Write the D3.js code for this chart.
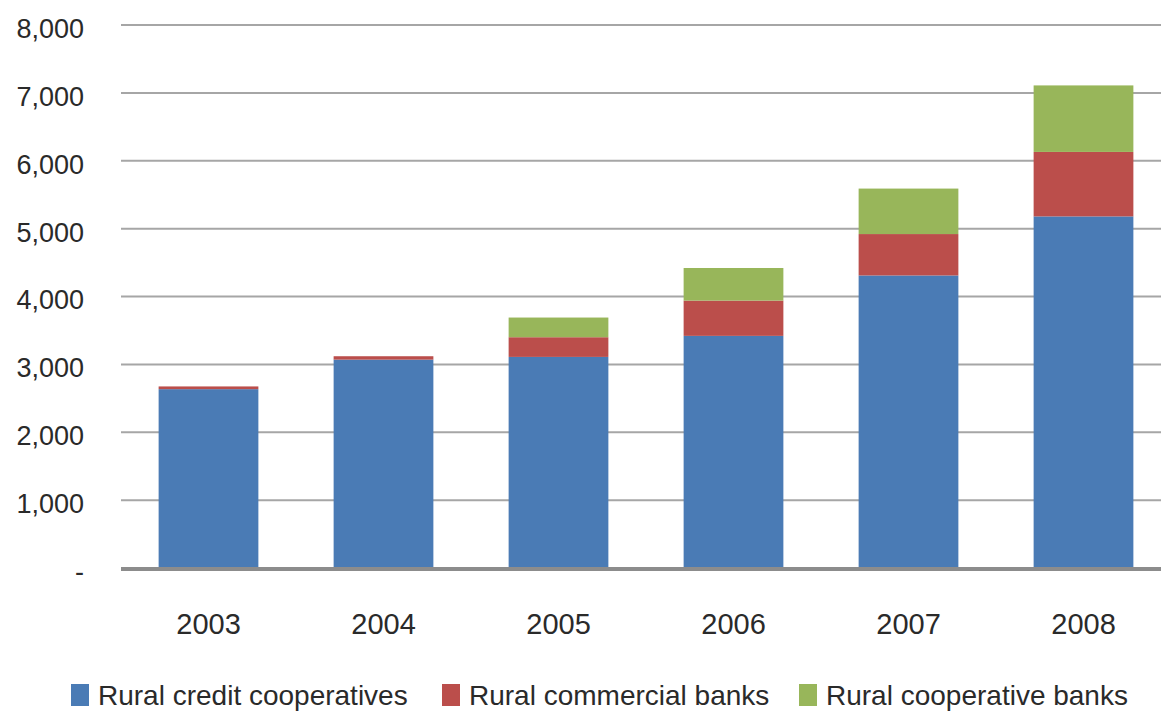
<!DOCTYPE html>
<html><head><meta charset="utf-8">
<script src="https://cdn.jsdelivr.net/npm/d3@7"></script>
<style>body{margin:0;background:#fff;}svg{display:block;}</style>
</head><body>
<svg id="chart" width="1161" height="711"></svg>
<script>
const years = ["2003","2004","2005","2006","2007","2008"];
const seriesNames = ["Rural credit cooperatives","Rural commercial banks","Rural cooperative banks"];
const creditCoops = [2635, 3070, 3110, 3420, 4310, 5180];
const commercialBanks = [40, 50, 290, 520, 610, 950];
const cooperativeBanks = [0, 0, 290, 480, 670, 980];
const yTicks = [0,1000,2000,3000,4000,5000,6000,7000,8000];
const colors = ["#4a7bb5","#bb4e4b","#98b65a"];

(function(){
const svg = d3.select("#chart");
const pLeft = 121, pRight = 1171, pTop = 25, pBottom = 568;

const rows = years.map((yr,i)=>({year:yr, a:creditCoops[i], b:commercialBanks[i], c:cooperativeBanks[i]}));
const stack = d3.stack().keys(["a","b","c"])(rows);

const x = d3.scaleBand().domain(years).range([pLeft,pRight]).paddingInner(0.43).paddingOuter(0.215);
const y = d3.scaleLinear().domain([0,8000]).range([pBottom,pTop]);

svg.append("g").selectAll("line").data(yTicks.filter(d=>d>0)).join("line")
  .attr("x1",pLeft).attr("x2",1161)
  .attr("y1",d=>y(d)).attr("y2",d=>y(d))
  .attr("stroke","#a6a6a6").attr("stroke-width",2);

const yAxis = d3.axisLeft(y).tickValues(yTicks).tickSize(0).tickPadding(0)
  .tickFormat(d=> d===0 ? "-" : d3.format(",")(d));
const gy = svg.append("g").attr("transform",`translate(84,3)`).call(yAxis);
gy.select(".domain").remove();
gy.selectAll("text").attr("font-family","Liberation Sans").attr("font-size","27px").attr("fill","#2a2a2a").attr("dy","0.35em");

svg.append("g").selectAll("g").data(stack).join("g")
  .attr("fill",(d,i)=>colors[i])
  .selectAll("rect").data(d=>d).join("rect")
  .attr("x",d=>x(d.data.year))
  .attr("width",x.bandwidth())
  .attr("y",d=>y(d[1]))
  .attr("height",d=>Math.max(0,y(d[0])-y(d[1])));

svg.append("line").attr("x1",pLeft).attr("x2",1161).attr("y1",pBottom+1).attr("y2",pBottom+1)
  .attr("stroke","#8c8c8c").attr("stroke-width",4);

const xAxis = d3.axisBottom(x).tickSize(0).tickPadding(0);
const gx = svg.append("g").attr("transform",`translate(0,624)`).call(xAxis);
gx.select(".domain").remove();
gx.selectAll("text").attr("font-family","Liberation Sans").attr("font-size","29px").attr("fill","#2a2a2a").attr("dy","0.35em");

const legendX = [71, 442, 799];
const lg = svg.append("g").selectAll("g").data(seriesNames).join("g")
  .attr("transform",(d,i)=>`translate(${legendX[i]},695)`);
lg.append("rect").attr("x",0).attr("y",-11).attr("width",18).attr("height",22).attr("fill",(d,i)=>colors[i]);
lg.append("text").attr("x",27).attr("y",0).attr("dy","0.35em")
  .attr("font-family","Liberation Sans").attr("font-size","28px").attr("fill","#2a2a2a").text(d=>d);
})();
</script>
</body></html>
